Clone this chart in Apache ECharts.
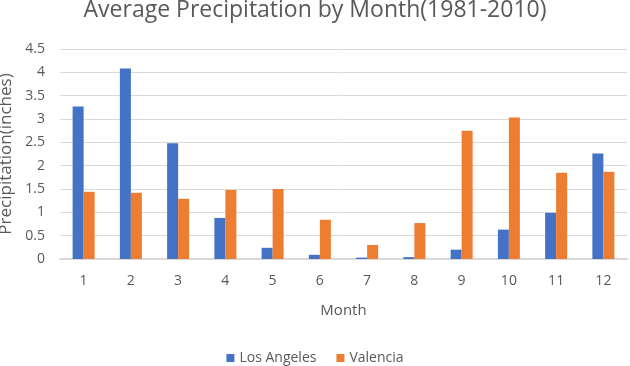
<!DOCTYPE html>
<html>
<head>
<meta charset="utf-8">
<script src="https://cdn.jsdelivr.net/npm/echarts@6/dist/echarts.min.js"></script>
<style>
  html, body { margin: 0; padding: 0; background: #fff; }
  #main { width: 630px; height: 366px; }
</style>
</head>
<body>
<div id="main"></div>
<script>
// 数据
var months = ['1', '2', '3', '4', '5', '6', '7', '8', '9', '10', '11', '12'];
var losAngeles = [3.27, 4.08, 2.48, 0.88, 0.24, 0.09, 0.03, 0.04, 0.20, 0.63, 0.99, 2.26];
var valencia = [1.44, 1.42, 1.29, 1.48, 1.50, 0.84, 0.30, 0.77, 2.75, 3.03, 1.85, 1.87];

var myChart = echarts.init(document.getElementById('main'));
var textFont = 'Open Sans';

myChart.setOption({
    animation: false,
    title: {
        text: 'Average Precipitation by Month(1981-2010)',
        left: 'center',
        top: -6,
        textStyle: { fontFamily: textFont, fontSize: 23, fontWeight: 'normal', color: '#595959' }
    },
    legend: {
        bottom: -4,
        left: 'center',
        itemWidth: 8,
        itemHeight: 8,
        itemGap: 20,
        icon: 'rect',
        textStyle: { fontFamily: textFont, fontSize: 14, color: '#595959' },
        data: ['Los Angeles', 'Valencia']
    },
    grid: { left: 60, right: 3, top: 49, bottom: 107, outerBoundsMode: 'none' },
    xAxis: {
        type: 'category',
        data: months,
        name: 'Month',
        nameLocation: 'middle',
        nameGap: 44,
        nameTextStyle: { fontFamily: textFont, fontSize: 15, color: '#595959' },
        axisLine: { lineStyle: { color: '#d9d9d9', width: 2 } },
        axisTick: { show: false },
        axisLabel: { fontFamily: textFont, fontSize: 14, color: '#595959', margin: 15 }
    },
    yAxis: {
        type: 'value',
        min: 0,
        max: 4.5,
        interval: 0.5,
        name: 'Precipitation(inches)',
        nameLocation: 'middle',
        nameGap: 42,
        nameTextStyle: { fontFamily: textFont, fontSize: 17, color: '#595959' },
        axisLine: { show: false },
        axisTick: { show: false },
        splitLine: { lineStyle: { color: '#d9d9d9', width: 1 } },
        axisLabel: { fontFamily: textFont, fontSize: 14, color: '#595959', margin: 15 }
    },
    series: [{
        name: 'Los Angeles',
        type: 'bar',
        data: losAngeles,
        barWidth: 11,
        barGap: '0%',
        itemStyle: { color: '#4472c4' }
    }, {
        name: 'Valencia',
        type: 'bar',
        data: valencia,
        barWidth: 11,
        barGap: '0%',
        itemStyle: { color: '#ed7d31' }
    }]
});
</script>
</body>
</html>
